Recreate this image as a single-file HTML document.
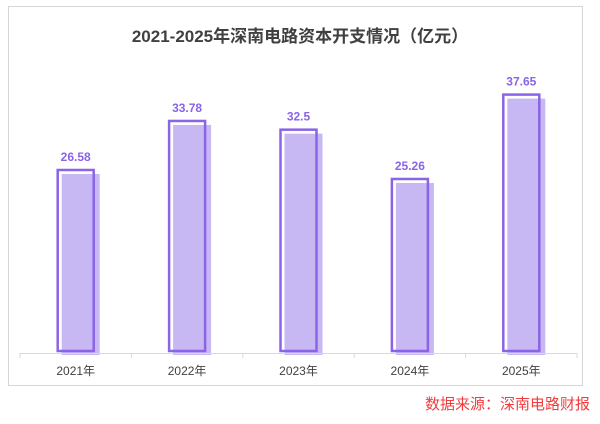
<!DOCTYPE html>
<html><head><meta charset="utf-8"><style>
body{margin:0;background:#fff;width:600px;height:419px;overflow:hidden;font-family:"Liberation Sans","Noto Sans CJK SC",sans-serif}
</style></head><body>
<svg width="600" height="419">
<rect x="8.5" y="6.5" width="574" height="379" fill="#fff" stroke="#d6d6d6"/>
<text x="300" y="42" text-anchor="middle" font-size="17" font-weight="bold" fill="#404040" font-family="Liberation Sans,Noto Sans CJK SC,sans-serif">2021-2025年深南电路资本开支情况（亿元）</text>
<g id="bars"></g>
<line x1="20" y1="353.5" x2="577" y2="353.5" stroke="#d9d9d9"/>
<text x="590" y="409" text-anchor="end" font-size="15" fill="#f03c3c" font-family="Liberation Sans,Noto Sans CJK SC,sans-serif">数据来源：深南电路财报</text>
</svg>
<script>
const categories=["2021年","2022年","2023年","2024年","2025年"];
const values=[26.58,33.78,32.5,25.26,37.65];
const labels=["26.58","33.78","32.5","25.26","37.65"];
const ns="http://www.w3.org/2000/svg";
const g=document.getElementById("bars");
const x0=20,bandW=111.4,baseY=351,scale=6.81;
function xC(i){return x0+bandW*(i+0.5);}
function yV(v){return baseY-v*scale;}
function mk(t,a){const e=document.createElementNS(ns,t);for(const k in a)e.setAttribute(k,a[k]);g.appendChild(e);return e;}
for(let i=0;i<=categories.length;i++){
 const t=mk("line",{x1:x0+bandW*i,x2:x0+bandW*i,y1:353,y2:358,stroke:"#d9d9d9"});
 
 
}
values.forEach((v,i)=>{
 const cx=xC(i),top=yV(v);
 const sh=mk("rect",{x:cx-14,y:top+4,width:38,height:baseY-top,fill:"#c7b8f4"});
 
 
 const b=mk("rect",{x:cx-18,y:top,width:36,height:baseY-top,fill:"none",stroke:"#8a63e6","stroke-width":2.5});
 
 
 const l=mk("text",{x:cx,y:top-9,"text-anchor":"middle","font-size":"12","font-weight":"bold",fill:"#8a63e6"});
 l.textContent=labels[i];
 
 
 const c=mk("text",{x:cx,y:375,"text-anchor":"middle","font-size":"12",fill:"#404040"});
 c.textContent=categories[i];
 
 
});
</script>
</body></html>
